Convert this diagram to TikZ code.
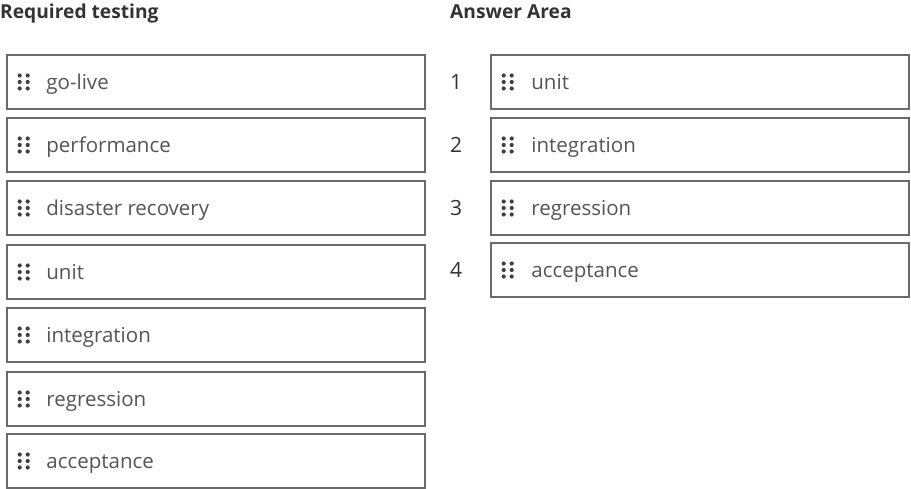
\documentclass[tikz,border=0pt]{standalone}
\usepackage{fontspec}
\setmainfont{Open Sans}
\usetikzlibrary{calc}
\definecolor{boxline}{HTML}{6A6A6A}
\definecolor{itemtxt}{HTML}{555555}
\definecolor{griptxt}{HTML}{404040}
\definecolor{headtxt}{HTML}{333333}
\tikzset{
  x=1pt, y=-1pt,
  leftbox/.style={draw=boxline, line width=1.6pt, minimum width=418pt, minimum height=54pt, inner sep=0pt},
  rightbox/.style={draw=boxline, line width=1.6pt, minimum width=418pt, minimum height=54pt, inner sep=0pt},
  itemtext/.style={anchor=base west, inner sep=0pt, text=itemtxt, font=\fontsize{20.5}{24}\selectfont},
  headtext/.style={anchor=base west, inner sep=0pt, text=headtxt, font=\fontsize{19.2}{22}\selectfont\bfseries},
  numtext/.style={anchor=base, inner sep=0pt, text=headtxt, font=\fontsize{21}{24}\selectfont},
  griptip/.style={fill=griptxt, draw=none},
}
\newcommand{\gripdots}[1]{%
  \foreach \gx in {0,8} \foreach \gy in {-6.5,0,6.5}
    \fill[griptip] ($(#1.west)+(13.5+\gx,\gy)$) circle (2.1pt);}
\begin{document}
\begin{tikzpicture}
\useasboundingbox[fill=white] (0,0) rectangle (911,489);
\node[headtext] (h1) at (0,19) {Required testing};
\node[headtext] (h2) at (450,19) {Answer Area};
% left column
\foreach \i/\t/\yy in {1/go-live/82, 2/performance/145, 3/disaster recovery/208, 4/unit/272, 5/integration/335, 6/regression/399, 7/acceptance/461}{
  \node[leftbox] (l\i) at (216,\yy) {};
  \node[itemtext] (lt\i) at ($(l\i.west)+(40,7.5)$) {\t};
  \gripdots{l\i}
}
% right column
\foreach \i/\t/\yy in {1/unit/82, 2/integration/145, 3/regression/208, 4/acceptance/270}{
  \node[rightbox] (r\i) at (700,\yy) {};
  \node[itemtext] (rt\i) at ($(r\i.west)+(41,7.5)$) {\t};
  \node[numtext] (n\i) at ($(r\i.west)+(-34,7.5)$) {\i};
  \gripdots{r\i}
}
\end{tikzpicture}
\end{document}
